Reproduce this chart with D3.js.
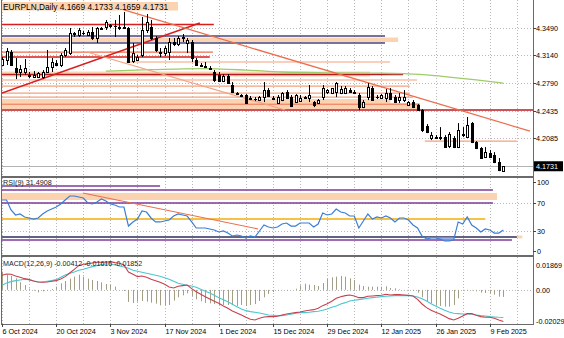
<!DOCTYPE html>
<html>
<head>
<meta charset="utf-8">
<script src="https://cdn.jsdelivr.net/npm/d3@7"></script>
<style>
html,body{margin:0;padding:0;background:#fff;}
svg{display:block;}
text{font-family:"Liberation Sans",Arial,sans-serif;}
</style>
</head>
<body>
<svg id="chart" width="564" height="338"></svg>
<script>
// EURPLN daily bars (a Sunday bar exists each week, so six bars per week)
const symbolTitle = "EURPLN,Daily";
const dateLabels = ["6 Oct 2024","20 Oct 2024","3 Nov 2024","17 Nov 2024","1 Dec 2024",
  "15 Dec 2024","29 Dec 2024","12 Jan 2025","26 Jan 2025","9 Feb 2025"];
const dateLabelBars = [0,12,24,36,48,60,72,84,96,108];

const open = [
4.3019,4.3082,4.3184,4.2980,4.2930,4.2930,4.2879,4.2866,4.2866,4.2866,
4.2930,4.2993,4.3044,4.3019,4.3146,4.3171,4.3413,4.3400,4.3426,4.3400,
4.3439,4.3362,4.3490,4.3502,4.3515,4.3515,4.3502,4.3502,4.3490,4.3069,
4.3082,4.3146,4.3464,4.3502,4.3362,4.3184,4.3171,4.3184,4.3311,4.3286,
4.3362,4.3299,4.3311,4.3082,4.3019,4.3006,4.2980,4.2930,4.2891,4.2815,
4.2879,4.2764,4.2662,4.2637,4.2637,4.2598,4.2592,4.2573,4.2611,4.2700,
4.2598,4.2535,4.2573,4.2675,4.2611,4.2548,4.2560,4.2611,4.2598,4.2548,
4.2535,4.2611,4.2675,4.2662,4.2675,4.2662,4.2662,4.2700,4.2675,4.2637,
4.2484,4.2611,4.2726,4.2611,4.2598,4.2598,4.2662,4.2611,4.2573,4.2573,
4.2509,4.2548,4.2509,4.2446,4.2242,4.2089,4.2089,4.2102,4.2102,4.1987,
4.2089,4.1975,4.2127,4.2102,4.2280,4.2039,4.1962,4.1847,4.1898,4.1873,
4.1784,4.1669];
const high = [
4.3120,4.3235,4.3210,4.3108,4.3019,4.3095,4.2930,4.2942,4.2930,4.2955,
4.3210,4.3108,4.3082,4.3171,4.3235,4.3490,4.3439,4.3490,4.3451,4.3464,
4.3502,4.3502,4.3502,4.3591,4.3540,4.3591,4.3655,4.3693,4.3502,4.3299,
4.3146,4.3630,4.3668,4.3591,4.3388,4.3235,4.3260,4.3362,4.3362,4.3388,
4.3413,4.3362,4.3337,4.3108,4.3044,4.3057,4.3006,4.2955,4.2930,4.2904,
4.2904,4.2802,4.2675,4.2649,4.2649,4.2624,4.2611,4.2624,4.2802,4.2726,
4.2624,4.2637,4.2675,4.2700,4.2637,4.2649,4.2637,4.2624,4.2764,4.2560,
4.2586,4.2764,4.2713,4.2726,4.2802,4.2751,4.2751,4.2726,4.2700,4.2662,
4.2573,4.2789,4.2751,4.2637,4.2649,4.2713,4.2726,4.2637,4.2662,4.2700,
4.2560,4.2573,4.2522,4.2459,4.2268,4.2166,4.2127,4.2229,4.2127,4.2166,
4.2115,4.2280,4.2229,4.2357,4.2293,4.2051,4.1975,4.1975,4.1937,4.1911,
4.1835,4.1733];
const low = [
4.3006,4.3019,4.3006,4.2840,4.2866,4.2891,4.2853,4.2853,4.2853,4.2840,
4.2917,4.2930,4.3006,4.2993,4.3120,4.3146,4.3375,4.3375,4.3400,4.3388,
4.3337,4.3299,4.3464,4.3464,4.3490,4.3375,4.3464,4.3490,4.3044,4.3044,
4.3069,4.3120,4.3426,4.3337,4.3184,4.3120,4.3133,4.3082,4.3260,4.3260,
4.3311,4.3171,4.3057,4.3006,4.2993,4.2980,4.2955,4.2802,4.2802,4.2802,
4.2777,4.2662,4.2637,4.2611,4.2522,4.2573,4.2560,4.2560,4.2548,4.2611,
4.2573,4.2522,4.2560,4.2586,4.2484,4.2535,4.2548,4.2598,4.2548,4.2484,
4.2522,4.2573,4.2649,4.2649,4.2611,4.2649,4.2649,4.2675,4.2649,4.2446,
4.2471,4.2573,4.2573,4.2586,4.2586,4.2548,4.2573,4.2548,4.2535,4.2548,
4.2497,4.2471,4.2446,4.2166,4.2153,4.2064,4.2077,4.2064,4.1975,4.1962,
4.1962,4.1962,4.2102,4.2102,4.2026,4.1949,4.1835,4.1835,4.1835,4.1771,
4.1669,4.1659];
const close = [
4.3095,4.3197,4.3019,4.2930,4.2968,4.2980,4.2891,4.2891,4.2917,4.2930,
4.2993,4.3057,4.3019,4.3146,4.3210,4.3426,4.3426,4.3464,4.3420,4.3439,
4.3362,4.3490,4.3483,4.3566,4.3528,4.3509,4.3496,4.3496,4.3057,4.3171,
4.3120,4.3464,4.3566,4.3362,4.3210,4.3171,4.3235,4.3311,4.3286,4.3362,
4.3375,4.3337,4.3108,4.3019,4.3012,4.3000,4.2974,4.2828,4.2815,4.2879,
4.2789,4.2675,4.2649,4.2630,4.2535,4.2592,4.2586,4.2611,4.2700,4.2624,
4.2592,4.2611,4.2662,4.2598,4.2497,4.2637,4.2598,4.2605,4.2637,4.2509,
4.2573,4.2726,4.2700,4.2726,4.2789,4.2713,4.2726,4.2675,4.2668,4.2484,
4.2548,4.2738,4.2573,4.2618,4.2637,4.2662,4.2586,4.2548,4.2611,4.2611,
4.2548,4.2484,4.2446,4.2191,4.2166,4.2127,4.2102,4.2096,4.1975,4.2140,
4.1975,4.2191,4.2140,4.2255,4.2039,4.1962,4.1835,4.1911,4.1847,4.1784,
4.1682,4.1731];

// moving average, read at selected bars
const maBars   = [23,33,44,54,62,72,82,89,94,99,105,111];
const maValues = [4.2942,4.2960,4.2974,4.2955,4.2930,4.2920,4.2915,4.2910,4.2893,4.2866,4.2830,4.2789];

// RSI(9)
const rsi = [
74.3,74.3,60,52.9,54.3,50,48.6,47.1,48.6,54.3,
58.6,61.4,64.3,68.6,74.3,80,80,78.6,77.1,70,
68.6,71.4,75.7,72.9,68.6,67.1,64.3,64.3,37.1,42.9,
47.1,58.6,57.1,48.6,42.9,42.9,44.3,45.7,51.4,54.3,
52.9,51.4,42.9,34.3,34.3,34.3,32.9,31.4,28.6,30,
27.1,22.9,24.3,22.9,20,22.9,21.4,30,38.6,35.7,
34.3,35.7,40,41.4,37.1,37.1,41.4,41.4,41.4,35.7,
40,55.7,52.9,54.3,61.4,57.1,55.7,51.4,51.4,34.3,
44.3,54.3,47.1,50,48.6,51.4,48.6,42.9,48.6,48.6,
45.7,38.6,34.3,22.9,18.6,20,20,18.6,15.7,15.7,
17.1,42.9,40,50,38.6,34.3,28.6,32.9,31.4,27.1,
27.1,31.4908];

// MACD(12,26,9): histogram, main line, signal line
const macdHist = [
0.01069,0.00873,0.00815,0.00678,0.00444,0.00287,0.00072,-0.00045,-0.00143,-0.00084,
-0.00045,0.00053,0.00189,0.00385,0.00522,0.00658,0.00776,0.00893,0.00776,0.00658,
0.00580,0.00522,0.00444,0.00346,0.00287,0.00189,-0.00006,-0.00064,-0.00709,-0.00768,
-0.00690,-0.00651,-0.00690,-0.00748,-0.00807,-0.00905,-0.00905,-0.00885,-0.00631,-0.00436,
-0.00319,-0.00201,-0.00358,-0.00553,-0.00670,-0.00768,-0.00787,-0.00827,-0.00885,-0.00885,
-0.00885,-0.00885,-0.00944,-0.00885,-0.00944,-0.00885,-0.00830,-0.00651,-0.00436,-0.00240,
-0.00123,-0.00045,-0.00006,-0.00045,-0.00006,0.00072,0.00268,0.00365,0.00307,0.00287,
0.00229,0.00404,0.00639,0.00737,0.00776,0.00815,0.00776,0.00678,0.00580,0.00307,
0.00229,0.00189,0.00189,0.00189,0.00189,0.00209,0.00111,0.00092,0.00033,-0.00006,
-0.00006,-0.00064,-0.00162,-0.00436,-0.00690,-0.00787,-0.00885,-0.00944,-0.00983,-0.00983,
-0.00885,-0.00494,-0.00025,-0.00045,-0.00025,-0.00084,-0.00162,-0.00182,-0.00221,-0.00279,
-0.00397,-0.00412];
const macdMain = [
0.00854,0.00932,0.00913,0.00815,0.00737,0.00658,0.00600,0.00522,0.00463,0.00444,
0.00463,0.00502,0.00541,0.00639,0.00776,0.00991,0.01206,0.01421,0.01499,0.01538,
0.01577,0.01616,0.01616,0.01616,0.01655,0.01596,0.01557,0.01460,0.01049,0.00913,
0.00776,0.00815,0.00737,0.00619,0.00541,0.00444,0.00326,0.00170,0.00111,0.00209,
0.00248,0.00287,0.00072,-0.00104,-0.00260,-0.00397,-0.00533,-0.00670,-0.00787,-0.00944,
-0.01080,-0.01237,-0.01354,-0.01471,-0.01608,-0.01720,-0.01765,-0.01667,-0.01589,-0.01569,
-0.01569,-0.01550,-0.01471,-0.01413,-0.01374,-0.01335,-0.01295,-0.01237,-0.01198,-0.01159,
-0.01080,-0.00924,-0.00807,-0.00670,-0.00494,-0.00397,-0.00338,-0.00299,-0.00358,-0.00455,
-0.00455,-0.00377,-0.00358,-0.00338,-0.00319,-0.00260,-0.00299,-0.00279,-0.00279,-0.00299,
-0.00319,-0.00358,-0.00553,-0.00827,-0.01042,-0.01198,-0.01315,-0.01413,-0.01550,-0.01686,
-0.01765,-0.01667,-0.01530,-0.01393,-0.01393,-0.01491,-0.01569,-0.01608,-0.01608,-0.01667,
-0.01765,-0.01852];
const macdSignal = [
0.00268,0.00404,0.00483,0.00541,0.00580,0.00619,0.00600,0.00522,0.00463,0.00463,
0.00502,0.00541,0.00600,0.00737,0.00873,0.00971,0.01049,0.01147,0.01206,0.01284,
0.01362,0.01421,0.01479,0.01518,0.01518,0.01460,0.01401,0.01342,0.01264,0.01147,
0.01089,0.01030,0.00971,0.00913,0.00854,0.00796,0.00717,0.00619,0.00502,0.00385,
0.00326,0.00268,0.00229,0.00150,0.00033,-0.00084,-0.00182,-0.00319,-0.00455,-0.00573,
-0.00690,-0.00846,-0.00983,-0.01119,-0.01217,-0.01276,-0.01310,-0.01354,-0.01413,-0.01471,
-0.01491,-0.01511,-0.01511,-0.01471,-0.01432,-0.01374,-0.01335,-0.01335,-0.01315,-0.01276,
-0.01256,-0.01198,-0.01119,-0.01022,-0.00944,-0.00827,-0.00748,-0.00651,-0.00612,-0.00573,
-0.00533,-0.00494,-0.00455,-0.00436,-0.00397,-0.00377,-0.00358,-0.00338,-0.00338,-0.00319,
-0.00338,-0.00358,-0.00416,-0.00514,-0.00651,-0.00807,-0.00944,-0.01080,-0.01198,-0.01295,
-0.01374,-0.01393,-0.01413,-0.01413,-0.01432,-0.01471,-0.01511,-0.01530,-0.01569,-0.01589,
-0.01608,-0.01616];

// axis ticks
const priceTicks = [4.3490,4.3140,4.2790,4.2435,4.2085];
const rsiTicks = [100,70,30,0];
const macdTicks = [0.01869,0.00,-0.02029];

// drawn support / resistance levels: [price, fromBar, toBar, kind]
const priceLevels = [
  [4.3534,-1,46.9,"red"],
  [4.3388,-1,84.8,"navy"],
  [4.3299,-1,84.8,"navy"],
  [4.3184,-1,46.7,"coral"],
  [4.3120,-1,46.0,"red"],
  [4.3057,27.5,85.9,"salmon"],
  [4.2898,-1,88.8,"darkred"],
  [4.2828,-1,91.9,"salmon"],
  [4.2751,-1,90.3,"salmon"],
  [4.2662,-1,90.3,"salmon"],
  [4.2611,-1,91.0,"salmon"],
  [4.2522,-1,92.5,"coral"],
  [4.2446,-1,118,"darkred"],
  [4.2051,93.6,114,"salmon"]
];
// shaded zones: [price1, price2, fromBar, toBar]
const priceZones = [
  [4.3369,4.3311,-1,87.7],
  [4.2936,4.2872,-1,81.5],
  [4.2586,4.2535,-1,86.0],
  [4.2516,4.2459,-1,92.5]
];
// trend lines: [bar1, price1, bar2, price2, kind]
const priceTrends = [
  [0,4.2662,43.8,4.3553,"red"],
  [27,4.3719,116.9,4.2178,"coral"],
  [18.8,4.3184,62.7,4.2446,"salmon"]
];
// RSI levels: [value, fromBar, toBar, kind]
const rsiLevels = [
  [94.3,-1,35,"purple"],
  [88.6,-1,108.7,"purple"],
  [70,-1,108.7,"purple"],
  [47.1,-1,107,"gold"],
  [21.4,-1,114,"navy"],
  [17.1,-1,112.9,"purple"]
];
const rsiZones = [[84.3,74.3,-1,109.6],[23.5,19.5,114,115.2]];
const rsiTrends = [[17.9,84.3,56.7,32.9,"coral"]];

const styles = {
  red:{c:"#d81e1e",w:1.6}, navy:{c:"#46467e",w:1.3}, coral:{c:"#ec6e4e",w:1.3},
  salmon:{c:"#f4a27e",w:1.2}, darkred:{c:"#b51c22",w:1.6},
  purple:{c:"#7d3b98",w:1.4}, gold:{c:"#f2ae0a",w:1.5}
};
const zoneFill = "#fbd3b1";

const svg = d3.select("#chart");
const L = 2, R = 533;
const x = d3.scaleLinear().domain([0,117.5]).range([2,532.7]);
const yP = d3.scaleLinear().domain([4.1607,4.3846]).range([176,0]);
const yR = d3.scaleLinear().domain([0,100]).range([252,182]);
const yM = d3.scaleLinear().domain([-0.02029,0.01869]).range([324.5,258]);

const panels = [
  {id:"pMain", top:0, bottom:176},
  {id:"pRsi", top:178, bottom:255},
  {id:"pMacd", top:257, bottom:324}
];
const defs = svg.append("defs");
panels.forEach(p=>{
  defs.append("clipPath").attr("id",p.id).append("rect")
    .attr("x",L).attr("y",p.top).attr("width",R-L).attr("height",p.bottom-p.top);
});
const gMain = svg.append("g").attr("clip-path","url(#pMain)");
const gRsi = svg.append("g").attr("clip-path","url(#pRsi)");
const gMacd = svg.append("g").attr("clip-path","url(#pMacd)");

// weekly vertical grid through every pane
const gridBars = d3.range(0,118,6);
[[gMain,0,176],[gRsi,178,255],[gMacd,257,324]].forEach(([g,t,b])=>{
  g.selectAll(null).data(gridBars).join("line")
    .attr("x1",d=>Math.round(x(d))+0.5).attr("x2",d=>Math.round(x(d))+0.5)
    .attr("y1",t).attr("y2",b)
    .attr("stroke","#b8b8b8").attr("stroke-width",1).attr("stroke-dasharray","1,2");
});
// horizontal grid
gMain.selectAll(null).data(priceTicks).join("line")
  .attr("x1",L).attr("x2",R).attr("y1",d=>Math.round(yP(d))+0.5).attr("y2",d=>Math.round(yP(d))+0.5)
  .attr("stroke","#b8b8b8").attr("stroke-dasharray","1,2");
gRsi.selectAll(null).data([70,30]).join("line")
  .attr("x1",L).attr("x2",R).attr("y1",d=>Math.round(yR(d))+0.5).attr("y2",d=>Math.round(yR(d))+0.5)
  .attr("stroke","#b8b8b8").attr("stroke-dasharray","1,2");
gMacd.append("line").attr("x1",L).attr("x2",R)
  .attr("y1",Math.round(yM(0))+0.5).attr("y2",Math.round(yM(0))+0.5)
  .attr("stroke","#b8b8b8").attr("stroke-dasharray","1,2");

// title band
gMain.append("rect").attr("x",L).attr("y",2).attr("width",176).attr("height",8.5).attr("fill",zoneFill);

// zones and levels in price pane
gMain.selectAll(null).data(priceZones).join("rect")
  .attr("x",d=>x(d[2])).attr("width",d=>x(d[3])-x(d[2]))
  .attr("y",d=>yP(d[0])).attr("height",d=>yP(d[1])-yP(d[0]))
  .attr("fill",zoneFill);
gMain.selectAll(null).data(priceLevels).join("line")
  .attr("x1",d=>x(d[1])).attr("x2",d=>x(d[2]))
  .attr("y1",d=>yP(d[0])).attr("y2",d=>yP(d[0]))
  .attr("stroke",d=>styles[d[3]].c).attr("stroke-width",d=>styles[d[3]].w);

// moving average
gMain.append("path")
  .attr("d",d3.line().curve(d3.curveMonotoneX).x((d,i)=>x(maBars[i])).y(d=>yP(d))(maValues))
  .attr("fill","none").attr("stroke","#9fcb6a").attr("stroke-width",1.3);

// trend lines
gMain.selectAll(null).data(priceTrends).join("line")
  .attr("x1",d=>x(d[0])).attr("y1",d=>yP(d[1])).attr("x2",d=>x(d[2])).attr("y2",d=>yP(d[3]))
  .attr("stroke",d=>styles[d[4]].c).attr("stroke-width",d=>styles[d[4]].w);

// current price line
gMain.append("line").attr("x1",L).attr("x2",R)
  .attr("y1",Math.round(yP(close[close.length-1]))+0.5).attr("y2",Math.round(yP(close[close.length-1]))+0.5)
  .attr("stroke","#b4b4b4").attr("stroke-width",1);

// candles
const bars = open.map((o,i)=>({i,o,h:high[i],l:low[i],c:close[i]}));
const cg = gMain.append("g");
bars.forEach(b=>{
  const cx = Math.round(x(b.i));
  cg.append("line").attr("x1",cx+0.5).attr("x2",cx+0.5)
    .attr("y1",yP(b.h)).attr("y2",yP(b.l)).attr("stroke","#000").attr("stroke-width",1);
  const yt = Math.round(yP(Math.max(b.o,b.c))), yb = Math.round(yP(Math.min(b.o,b.c)));
  if (yb-yt < 1) {
    cg.append("line").attr("x1",cx-1).attr("x2",cx+2).attr("y1",yt+0.5).attr("y2",yt+0.5)
      .attr("stroke","#000");
  } else if (b.c >= b.o) {
    cg.append("rect").attr("x",cx-0.5).attr("y",yt+0.5).attr("width",2).attr("height",yb-yt)
      .attr("fill","#fff").attr("stroke","#000").attr("stroke-width",1);
  } else {
    cg.append("rect").attr("x",cx-1).attr("y",yt).attr("width",3).attr("height",yb-yt+1)
      .attr("fill","#000");
  }
});

// title text
svg.append("text").attr("x",3).attr("y",9.5).attr("font-size",8.3).attr("fill","#000")
  .text(`${symbolTitle}  ${open[open.length-1].toFixed(4)} ${high[high.length-1].toFixed(4)} ${low[low.length-1].toFixed(4)} ${close[close.length-1].toFixed(4)}`);

// RSI pane
gRsi.selectAll(null).data(rsiZones).join("rect")
  .attr("x",d=>x(d[2])).attr("width",d=>x(d[3])-x(d[2]))
  .attr("y",d=>yR(d[0])).attr("height",d=>yR(d[1])-yR(d[0]))
  .attr("fill",zoneFill);
gRsi.selectAll(null).data(rsiLevels).join("line")
  .attr("x1",d=>x(d[1])).attr("x2",d=>x(d[2]))
  .attr("y1",d=>yR(d[0])).attr("y2",d=>yR(d[0]))
  .attr("stroke",d=>d[3]==="navy"?"#2e2e5c":styles[d[3]].c).attr("stroke-width",d=>styles[d[3]].w);
gRsi.selectAll(null).data(rsiTrends).join("line")
  .attr("x1",d=>x(d[0])).attr("y1",d=>yR(d[1])).attr("x2",d=>x(d[2])).attr("y2",d=>yR(d[3]))
  .attr("stroke",styles.coral.c).attr("stroke-width",1.1);
// oversold shading
gRsi.append("path")
  .attr("d",d3.area().defined(d=>d<=21.4).x((d,i)=>x(i)).y0(yR(21.4)).y1(d=>yR(d))(rsi))
  .attr("fill","#7d9be0").attr("opacity",0.8);
gRsi.append("path")
  .attr("d",d3.line().x((d,i)=>x(i)).y(d=>yR(d))(rsi))
  .attr("fill","none").attr("stroke","#3a7ed6").attr("stroke-width",1.2);
svg.append("text").attr("x",3).attr("y",185).attr("font-size",7.2).attr("fill","#222")
  .text(`RSI(9) ${rsi[rsi.length-1].toFixed(4)}`);

// MACD pane
gMacd.selectAll(null).data(macdHist).join("line")
  .attr("x1",(d,i)=>Math.round(x(i))+0.5).attr("x2",(d,i)=>Math.round(x(i))+0.5)
  .attr("y1",yM(0)).attr("y2",d=>yM(d))
  .attr("stroke","#a39f86").attr("stroke-width",1);
gMacd.append("path")
  .attr("d",d3.line().x((d,i)=>x(i)).y(d=>yM(d))(macdSignal))
  .attr("fill","none").attr("stroke","#4cc6cf").attr("stroke-width",1.1);
gMacd.append("path")
  .attr("d",d3.line().x((d,i)=>x(i)).y(d=>yM(d))(macdMain))
  .attr("fill","none").attr("stroke","#c8404e").attr("stroke-width",1.1);
const fm = v=>v.toFixed(5);
svg.append("text").attr("x",3).attr("y",266).attr("font-size",7.1).attr("fill","#222")
  .text(`MACD(12,26,9) ${fm(macdHist[macdHist.length-1])} ${fm(macdSignal[macdSignal.length-1])} ${fm(macdMain[macdMain.length-1])}`);

// frame
const frame = svg.append("g").attr("stroke","#6a6a6a").attr("fill","none");
frame.append("line").attr("x1",1.5).attr("x2",1.5).attr("y1",0).attr("y2",325);
frame.append("line").attr("x1",R+0.5).attr("x2",R+0.5).attr("y1",0).attr("y2",325);
frame.append("line").attr("x1",1).attr("x2",R+1).attr("y1",177).attr("y2",177).attr("stroke-width",2);
frame.append("line").attr("x1",1).attr("x2",R+1).attr("y1",256).attr("y2",256).attr("stroke-width",2);
frame.append("line").attr("x1",1).attr("x2",R+1).attr("y1",324.5).attr("y2",324.5);

// right axes
const axG = svg.append("g").attr("font-size",7.2).attr("fill","#000");
priceTicks.forEach(p=>{
  const yy = Math.round(yP(p))+0.5;
  axG.append("line").attr("x1",R).attr("x2",R+3).attr("y1",yy).attr("y2",yy).attr("stroke","#444");
  axG.append("text").attr("x",R+3).attr("y",yy+2.6).text(p.toFixed(4));
});
const last = close[close.length-1];
axG.append("rect").attr("x",R+1).attr("y",yP(last)-5).attr("width",29).attr("height",10).attr("fill","#000");
axG.append("text").attr("x",R+3).attr("y",yP(last)+2.6).attr("fill","#fff").text(last.toFixed(4));
rsiTicks.forEach(v=>{
  const off = v===0 ? -1.5 : 0;
  const yy = Math.round(yR(v)+off)+0.5;
  axG.append("line").attr("x1",R).attr("x2",R+3).attr("y1",yy).attr("y2",yy).attr("stroke","#444");
  axG.append("text").attr("x",R+4).attr("y",yy+2.6).text(v);
});
macdTicks.forEach((v,k)=>{
  const off = k===0 ? 7 : (k===2 ? -3.5 : 0);
  const yy = Math.round(yM(v)+off)+0.5;
  axG.append("text").attr("x",R+3).attr("y",yy+2.6).text(v===0?"0.00":v.toFixed(5));
});

// date axis
dateLabelBars.forEach((b,k)=>{
  const xx = Math.round(x(b))+0.5;
  axG.append("line").attr("x1",xx).attr("x2",xx).attr("y1",324).attr("y2",327).attr("stroke","#444");
  axG.append("text").attr("x",xx).attr("y",333.5).text(dateLabels[k]);
});
</script>
</body>
</html>
